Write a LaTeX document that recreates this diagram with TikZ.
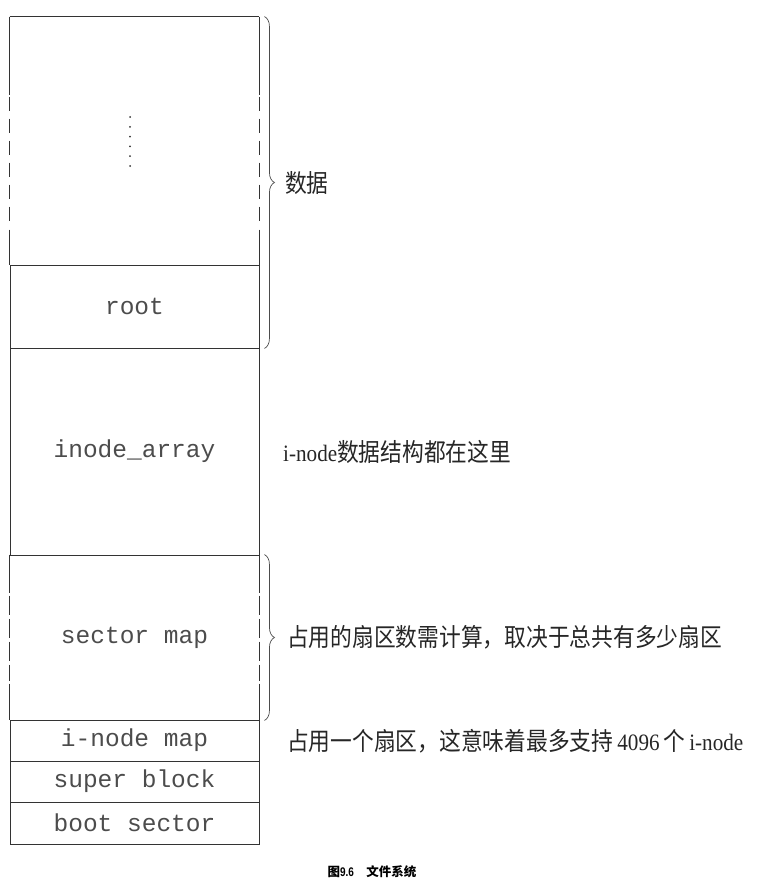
\documentclass[tikz,border=0pt]{standalone}
\usepackage{fontspec}
\setmainfont[FakeStretch=0.9]{Liberation Serif}
\setmonofont{Liberation Mono}
\newfontfamily\cjk[FakeStretch=0.87]{Noto Sans CJK SC}
\newfontfamily\cjkcap{Noto Sans CJK SC}
\newfontfamily\capsans[FakeStretch=0.8]{Liberation Sans}
\newcommand\hanzi[1]{{\cjk\fontsize{25}{28}\selectfont #1}}
\usetikzlibrary{decorations.pathreplacing}

\begin{document}
\begin{tikzpicture}[
    x=1pt, y=-1pt,
    cell/.style={draw=black!80, line width=0.9pt, minimum width=249pt, inner sep=0pt, font=\ttfamily\fontsize{24.5}{28}\selectfont, text=black!70},
    side/.style={black!80, line width=0.9pt},
    note/.style={anchor=west, inner sep=0pt, text=black!85, font=\fontsize{23.5}{28}\selectfont},
    bracket/.style={decorate, decoration={brace, amplitude=10pt}, line width=0.7pt, black!70}
]
\useasboundingbox (0,0) rectangle (770,888);

% disk layout, top to bottom
\node[cell, draw=none, minimum height=248pt] (data) at (134.5,141) {};
\node[cell, minimum height=83pt] (root) at (134.5,306.5) {root};
\node[cell, minimum height=207pt] (inode) at (134.5,451.5) {inode\_array};
\node[cell, draw=none, minimum height=165pt] (sector) at (134.5,637.5) {sector map};
\node[cell, minimum height=41pt] (imap) at (134.5,740.5) {i-node map};
\node[cell, minimum height=41pt] (super) at (134.5,781.5) {super block};
\node[cell, minimum height=42pt] (boot) at (134.5,823) {boot sector};

% open sides of the data and sector map areas
\draw[side] (data.north west) -- (data.north east);
\foreach \a in {west,east} {
    \draw[side] (data.north \a) -- ++(0,78);
    \draw[side, dash pattern=on 14pt off 8pt] ([yshift=-80pt]data.north \a) -- ([yshift=-205pt]data.north \a);
    \draw[side] ([yshift=-213pt]data.north \a) -- (data.south \a);
    \draw[side] (sector.north \a) -- ++(0,38);
    \draw[side, dash pattern=on 19pt off 4pt] ([yshift=-41pt]sector.north \a) -- ([yshift=-126pt]sector.north \a);
    \draw[side] ([yshift=-129pt]sector.north \a) -- (sector.south \a);
}
\foreach \k in {0,...,5}
    \fill[black!80] (130,117+9.8*\k) circle[radius=1pt];

% braces and notes
\draw[bracket] ([xshift=5pt]data.north east) -- ([xshift=5pt]root.south east);
\draw[bracket] ([xshift=5pt]sector.north east) -- ([xshift=5pt]sector.south east);

\node[note] (datanote) at (285,183) {\hanzi{数据}};
\node[note] (inodenote) at (283,452) {i-node\hanzi{数据结构都在这里}};
\node[note] (sectornote) at (287,637) {\hanzi{占用的扇区数需计算，取决于总共有多少扇区}};
\node[note] (imapnote) at (287,741) {\hanzi{占用一个扇区，这意味着最多支持}\,4096\,\hanzi{个}\,i-node};

\node[font=\fontsize{12.5}{14}\selectfont\bfseries] (caption) at (372,872) {{\cjkcap 图}{\capsans 9.6}\quad{\cjkcap 文件系统}};
\end{tikzpicture}
\end{document}
